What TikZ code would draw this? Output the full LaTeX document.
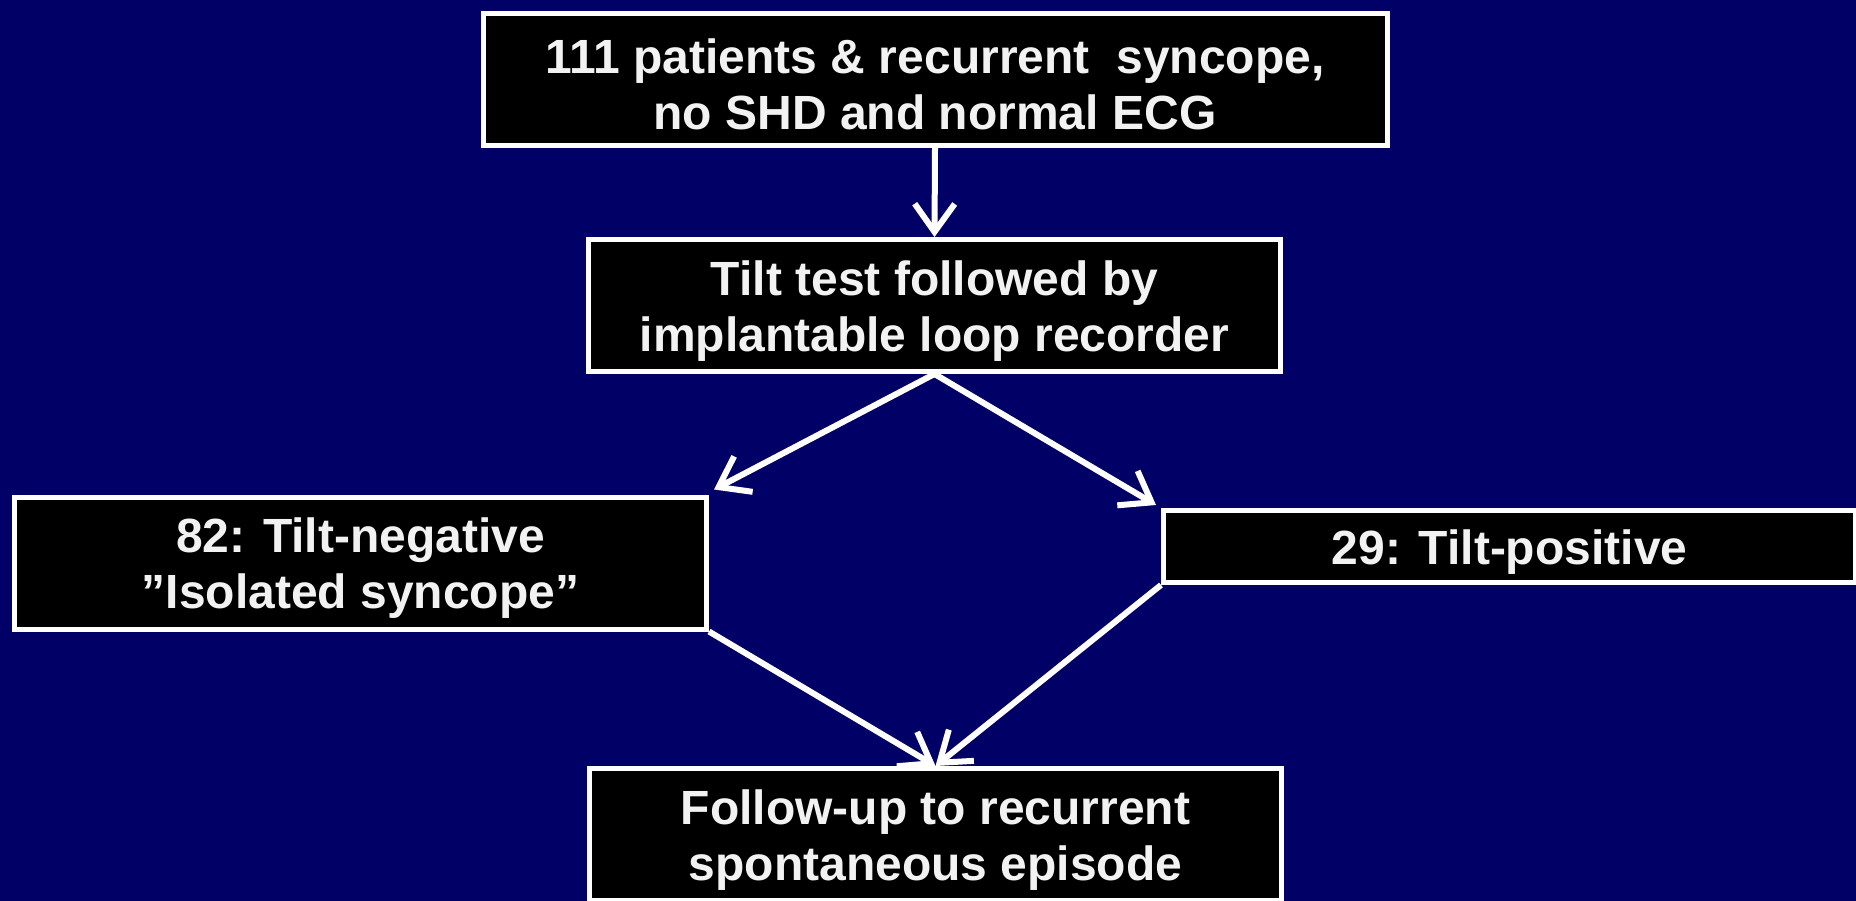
\documentclass[tikz,border=0pt]{standalone}
\usepackage{fontspec}
\setmainfont{Liberation Sans}
\usetikzlibrary{arrows.meta}
\definecolor{slidebg}{RGB}{0,0,102}
\definecolor{boxtext}{RGB}{242,242,242}
% tall strut on the first line lowers the text block a little in its box
\newcommand\firstlinestrut{\rule{0pt}{45pt}}
\begin{document}
\begin{tikzpicture}[x=1pt,y=-1pt,
  stepbox/.style={draw=white, line width=5pt, fill=black, text=boxtext,
    font=\fontsize{48}{56}\selectfont\bfseries, align=center,
    minimum width=692pt, minimum height=132pt, inner sep=0pt},
  flow/.style={draw=white, line width=6pt,
    -{Straight Barb[length=28pt,width=40pt,line width=6pt]}}]
  % slide background and page size
  \fill[slidebg] (0,0) rectangle (1856,901);
  \useasboundingbox (0,0) rectangle (1856,901);

  \node[stepbox, minimum width=904pt] (start) at (935,79.5)
    {\firstlinestrut 111 patients \& recurrent\ \ syncope,\\no SHD and normal ECG};
  \node[stepbox] (tilt) at (934.5,305.5)
    {\firstlinestrut Tilt test followed by\\implantable loop recorder};
  \node[stepbox] (neg) at (360.5,563)
    {\firstlinestrut 82: Tilt-negative\\”Isolated syncope”};
  \node[stepbox, minimum height=72pt] (pos) at (1509.5,546.5)
    {\firstlinestrut 29: Tilt-positive};
  \node[stepbox] (follow) at (935.5,834.5)
    {\firstlinestrut Follow-up to recurrent\\spontaneous episode};

  \draw[flow] (start.south) -- (tilt.north);
  \draw[flow] (tilt.south) -- ([xshift=5pt,yshift=5pt]neg.north east);
  \draw[flow] (tilt.south) -- ([xshift=-5pt,yshift=3pt]pos.north west);
  \draw[flow] (neg.south east) -- (follow.north);
  \draw[flow] (pos.south west) -- (follow.north);
\end{tikzpicture}
\end{document}
